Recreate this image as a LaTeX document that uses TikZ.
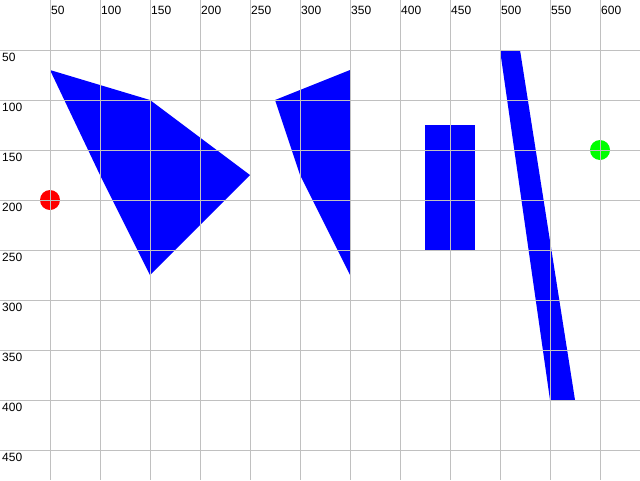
\documentclass[tikz,border=0pt]{standalone}
\usepackage{fontspec}
\setmainfont{Liberation Sans}
\definecolor{gridgray}{RGB}{192,192,192}
\definecolor{shapeblue}{RGB}{0,0,255}
\definecolor{dotred}{RGB}{255,0,0}
\definecolor{dotgreen}{RGB}{0,255,0}
\begin{document}
\begin{tikzpicture}[x=1pt,y=-1pt,
  shapefill/.style={fill=shapeblue},
  gridline/.style={draw=gridgray,line width=1pt},
  lbl/.style={font=\fontsize{12}{12}\selectfont, inner sep=0pt, anchor=base west, text=black}]
\useasboundingbox (0,0) rectangle (640,480);
\fill[white] (0,0) rectangle (640,480);
% shapes
\fill[shapefill] (50,70) -- (150,100) -- (250,175) -- (150,275) -- (100,175) -- cycle;
\fill[shapefill] (275,100) -- (350,70) -- (350,275) -- (300,175) -- cycle;
\fill[shapefill] (425,125) rectangle (475,250);
\fill[shapefill] (500,50) -- (520,50) -- (575,400) -- (550,400) -- cycle;
% dots
\fill[dotred] (50,200) circle (10);
\fill[dotgreen] (600,150) circle (10);
% grid
\foreach \x in {50,100,...,600} \draw[gridline] (\x+0.5,0) -- (\x+0.5,480);
\foreach \y in {50,100,...,450} \draw[gridline] (0,\y+0.5) -- (640,\y+0.5);
% labels
\foreach \x in {50,100,...,600} \node[lbl] (tx\x) at (\x+1,14) {\x};
\foreach \y in {50,100,...,450} \node[lbl] (ly\y) at (2,\y+11) {\y};
\end{tikzpicture}
\end{document}
